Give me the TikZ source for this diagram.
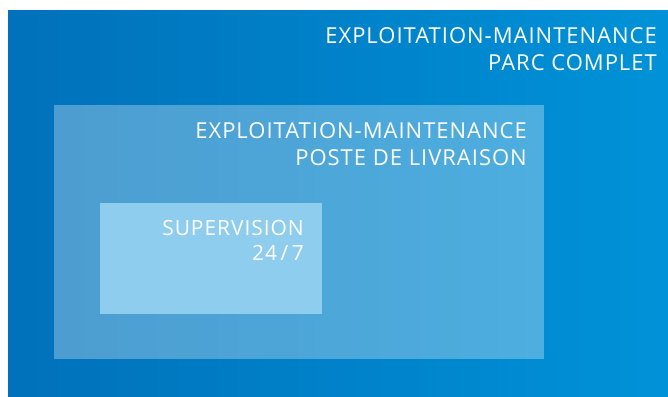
\documentclass[tikz,border=0pt]{standalone}
\usepackage{fontspec}
\setmainfont{Open Sans}[LetterSpace=4.5]
\definecolor{outerL}{HTML}{0071BA}
\definecolor{outerR}{HTML}{0092D8}
\definecolor{innerC}{HTML}{8FCDEE}
\tikzset{
  lbl/.style={text=white, align=right, inner sep=0pt, anchor=north east,
    font=\fontsize{22}{27}\selectfont},
}
\begin{document}
\begin{tikzpicture}[x=1pt,y=-1pt]
\useasboundingbox (0,0) rectangle (668,396);
\fill[white] (0,0) rectangle (668,396);
\shade[left color=outerL, right color=outerR] (8,11) rectangle (668,396);
\fill[white, opacity=0.3] (54,105) rectangle (544,359);
\fill[innerC] (100,203) rectangle (322,314);
\node[lbl] (t1) at (657,27) {EXPLOITATION-MAINTENANCE\\PARC COMPLET};
\node[lbl] (t2) at (527,122.5) {EXPLOITATION-MAINTENANCE\\POSTE DE LIVRAISON};
\node[lbl, font=\fontsize{21}{25}\selectfont] (t3) at (304,220) {SUPERVISION\\24\,/\,7};
\end{tikzpicture}
\end{document}
